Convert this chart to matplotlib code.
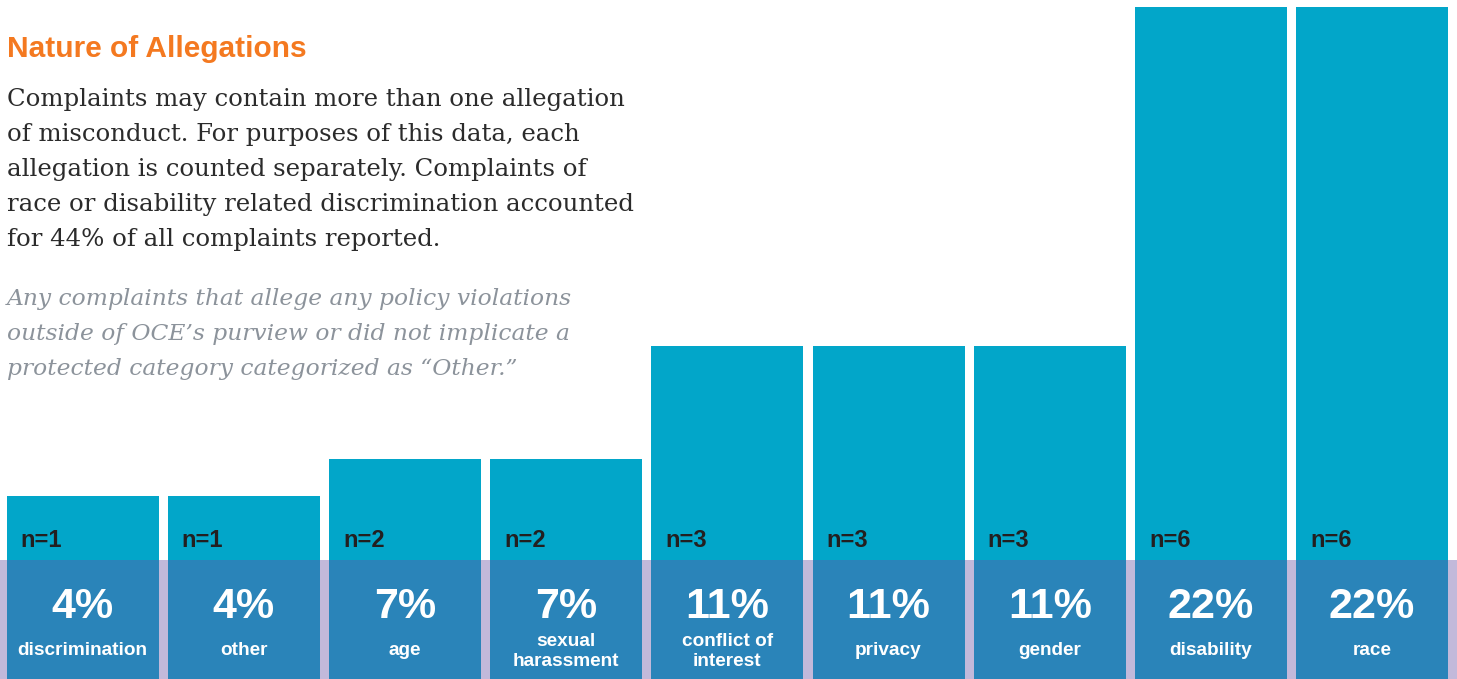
import matplotlib
matplotlib.use("Agg")
import matplotlib.pyplot as plt

# ---- data ----
categories = ["discrimination", "other", "age", "sexual\nharassment", "conflict of\ninterest",
              "privacy", "gender", "disability", "race"]
counts = [1, 1, 2, 2, 3, 3, 3, 6, 6]
percents = ["4%", "4%", "7%", "7%", "11%", "11%", "11%", "22%", "22%"]

title = "Nature of Allegations"
body_lines = [
    "Complaints may contain more than one allegation",
    "of misconduct. For purposes of this data, each",
    "allegation is counted separately. Complaints of",
    "race or disability related discrimination accounted",
    "for 44% of all complaints reported.",
]
note_lines = [
    "Any complaints that allege any policy violations",
    "outside of OCE\u2019s purview or did not implicate a",
    "protected category categorized as \u201cOther.\u201d",
]

# ---- style ----
W, H = 1457, 679
CYAN = "#02A6C9"
DARK = "#2A84B9"
LAV = "#C2B9DA"
ORANGE = "#F47920"
min_display = 1.67   # smallest bars are drawn taller so their label fits
band_top = 1.103     # top of the darker label band (in count units)

fig = plt.figure(figsize=(W / 100, H / 100), dpi=100)
ax = fig.add_axes([0, 0, 1, 1])
pitch = 161.2
x0 = 82.5
ax.set_xlim(-x0 / pitch, (W - x0) / pitch)
unit = 113.0
base = 685
ax.set_ylim((base - H) / unit, base / unit)
ax.axis("off")

xs = list(range(len(categories)))
heights = [max(c, min_display) for c in counts]
bw = 152 / pitch

ax.axhspan(0, band_top, color=LAV, zorder=0, lw=0)
ax.bar(xs, heights, width=bw, color=CYAN, zorder=1, linewidth=0)
ax.bar(xs, [band_top] * len(xs), width=bw, color=DARK, zorder=2, linewidth=0)

def py(p):
    # pixel y (from top) -> data y
    return (base - p) / unit

for i, (c, p, cat) in enumerate(zip(counts, percents, categories)):
    ax.text(i - bw / 2 + 14 / pitch, py(547), f"n={c}", fontsize=17, fontweight="bold",
            family="Liberation Sans", color="#231F20", ha="left", va="baseline", zorder=3)
    ax.text(i, py(618), p, fontsize=31, fontweight="bold", family="Liberation Sans",
            color="white", ha="center", va="baseline", zorder=3)
    lines = cat.split("\n")
    if len(lines) == 1:
        ys = [655]
    else:
        ys = [646, 666]
    for ln, yy in zip(lines, ys):
        ax.text(i, py(yy), ln, fontsize=13.7, fontweight="bold", family="Liberation Sans",
                color="white", ha="center", va="baseline", zorder=3)

def fx(px):
    return px / W

def fy(p):
    return 1 - p / H

fig.text(fx(7), fy(57), title, fontsize=21.5, fontweight="bold", family="Liberation Sans",
         color=ORANGE, ha="left", va="baseline")
for k, ln in enumerate(body_lines):
    fig.text(fx(7), fy(106 + 35 * k), ln, fontsize=17.6, family="DejaVu Serif",
             color="#2B2B2B", ha="left", va="baseline")
for k, ln in enumerate(note_lines):
    fig.text(fx(7), fy(305 + 35 * k), ln, fontsize=16.8, family="DejaVu Serif", style="italic",
             color="#8C939B", ha="left", va="baseline")

fig.savefig("out.png", dpi=100, facecolor="white")
